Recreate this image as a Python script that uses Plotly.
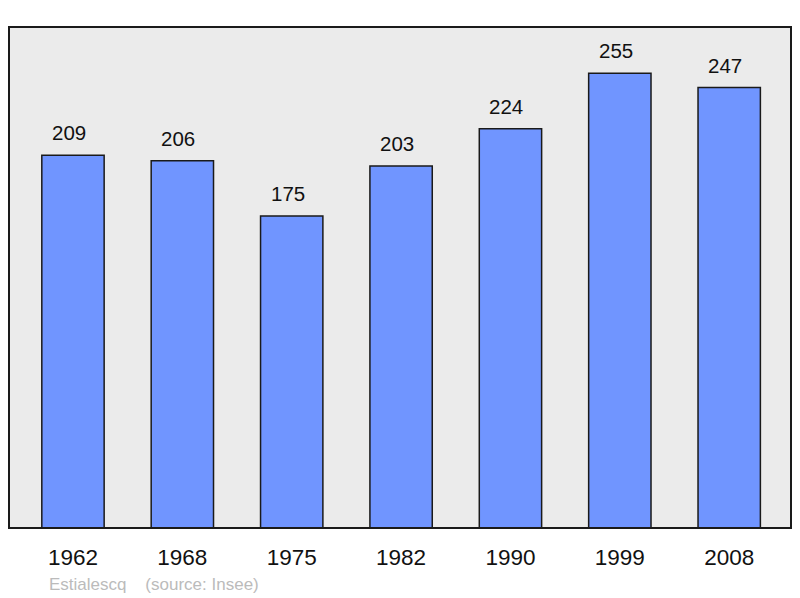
import plotly.graph_objects as go

years = ["1962", "1968", "1975", "1982", "1990", "1999", "2008"]
population = [209, 206, 175, 203, 224, 255, 247]

fig = go.Figure()
fig.add_trace(go.Bar(
    x=years, y=population, width=0.57,
    marker=dict(color="#7095FF", line=dict(color="#1a1a1a", width=1.5)),
    hoverinfo="x+y",
))
for i, v in enumerate(population):
    fig.add_annotation(x=i, y=v, text=str(v), showarrow=False, yanchor="bottom",
                       yshift=9, xshift=-4,
                       font=dict(family="Liberation Sans, Arial", size=20.5, color="#111"))

fig.add_annotation(xref="paper", yref="paper", x=0.049, y=-0.112, xanchor="left", yanchor="middle",
                   text="Estialescq&nbsp;&nbsp;&nbsp;&nbsp;(source: Insee)", showarrow=False,
                   font=dict(family="Liberation Sans, Arial", size=17, color="#bbbbbb"))

fig.update_layout(
    width=784, height=590,
    margin=dict(l=1, r=1, t=19, b=70),
    paper_bgcolor="white", plot_bgcolor="#EBEBEB",
    showlegend=False,
    xaxis=dict(type="category", range=[-0.585, 6.565], showgrid=False, zeroline=False,
               ticks="outside", ticklen=9, tickcolor="rgba(0,0,0,0)",
               tickfont=dict(family="Liberation Sans, Arial", size=22.5, color="#111"),
               showline=False),
    yaxis=dict(range=[0, 281], showgrid=False, zeroline=False, showticklabels=False, showline=False),
    shapes=[dict(type="rect", xref="paper", yref="paper", x0=0, y0=0, x1=1, y1=1,
                 line=dict(color="#1a1a1a", width=2), layer="above")],
)
fig.write_html("out.html")
